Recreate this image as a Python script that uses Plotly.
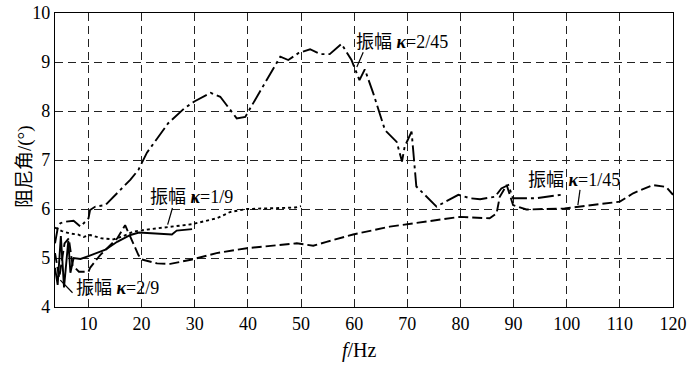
import plotly.graph_objects as go

# ---- data ----
f_k245 = [3.7, 4.2, 4.7, 5.6, 7.2, 8.5, 10.0, 10.3, 11.3, 13.2, 16.0, 17.9, 19.4, 21.0, 25.0, 28.0,
          30.0, 33.0, 34.8, 37.9, 39.5, 42.9, 46.1, 47.6, 49.5, 51.7, 53.6, 55.4, 57.6, 59.5,
          61.0, 62.0, 63.6, 65.8, 68.0, 69.0, 69.5, 70.8, 71.7, 75.5, 79.6, 81.8, 83.7, 86.5,
          87.7, 89.0, 89.9, 94.3, 99.6]
v_k245 = [5.3, 5.6, 5.71, 5.74, 5.76, 5.64, 5.81, 5.98, 6.05, 6.08, 6.39, 6.6, 6.8, 7.15, 7.75, 8.05,
          8.2, 8.37, 8.29, 7.85, 7.88, 8.5, 9.11, 9.04, 9.18, 9.26, 9.16, 9.16, 9.37, 9.04,
          8.63, 8.85, 8.36, 7.61, 7.37, 6.97, 7.27, 7.58, 6.46, 6.05, 6.29, 6.22, 6.2, 6.25,
          6.42, 6.49, 6.22, 6.22, 6.3]

f_k19 = [3.7, 5.0, 6.5, 8.0, 9.1, 10.3, 12.5, 14.7, 16.6, 18.5, 21.0, 25.1, 29.5, 34.1, 36.7,
         39.8, 44.0, 48.9, 50.0]
v_k19 = [5.62, 5.55, 5.5, 5.48, 5.43, 5.47, 5.4, 5.38, 5.45, 5.54, 5.58, 5.64, 5.69, 5.81, 5.94,
         6.0, 6.01, 6.03, 6.06]

f_k29 = [3.7, 4.2, 4.8, 5.4, 6.2, 6.6, 7.2, 8.5, 10.0, 11.6, 13.2, 15.4, 17.9, 19.5, 22.0,
         25.7, 26.6, 29.5]
v_k29 = [4.8, 4.45, 5.45, 4.4, 5.35, 4.7, 5.0, 4.98, 5.04, 5.1, 5.17, 5.33, 5.47, 5.52, 5.5,
         5.48, 5.56, 5.59]

f_k145 = [3.7, 4.5, 5.5, 6.3, 7.0, 8.2, 10.0, 10.3, 12.2, 15.4, 16.9, 18.2, 19.4, 20.0, 22.9,
          25.4, 29.5, 34.1, 39.8, 49.2, 52.3, 54.8, 59.8, 66.7, 72.0, 79.9, 85.5, 86.8, 87.4,
          88.7, 89.9, 92.4, 99.6, 102.5, 110.0, 112.5, 116.2, 118.7, 120.0]
v_k145 = [5.1, 4.6, 5.3, 5.4, 4.85, 4.72, 4.72, 4.8, 5.06, 5.4, 5.67, 5.37, 5.06, 4.97, 4.89,
          4.88, 4.97, 5.1, 5.2, 5.3, 5.25, 5.33, 5.48, 5.64, 5.72, 5.84, 5.81, 5.91, 6.25,
          6.49, 6.08, 5.99, 6.01, 6.05, 6.15, 6.32, 6.49, 6.45, 6.29]

x_ticks = [10, 20, 30, 40, 50, 60, 70, 80, 90, 100, 110, 120]
y_ticks = [4, 5, 6, 7, 8, 9, 10]

FONT = "Liberation Serif, Noto Sans CJK SC, serif"
LW = 1.9

fig = go.Figure()
fig.add_trace(go.Scatter(x=f_k245, y=v_k245, mode="lines",
                         line=dict(color="black", width=LW, dash="16px,4px,3px,4px")))
fig.add_trace(go.Scatter(x=f_k19, y=v_k19, mode="lines",
                         line=dict(color="black", width=LW, dash="3px,3px")))
fig.add_trace(go.Scatter(x=f_k29, y=v_k29, mode="lines",
                         line=dict(color="black", width=LW)))
fig.add_trace(go.Scatter(x=f_k145, y=v_k145, mode="lines",
                         line=dict(color="black", width=LW, dash="10px,4px")))

def lab(x, y, text, xanchor="left"):
    fig.add_annotation(x=x, y=y, xref="x", yref="y", text=text, showarrow=False,
                       xanchor=xanchor, yanchor="middle", borderpad=0,
                       font=dict(family=FONT, size=18, color="black"))

def leader(x0, y0, x1, y1):
    fig.add_shape(type="line", x0=x0, y0=y0, x1=x1, y1=y1, xref="x", yref="y",
                  line=dict(color="black", width=1.2))

lab(60.1, 9.41, "振幅 <b><i>κ</i></b>=2/45")
leader(61.7, 9.2, 60.5, 8.9)
lab(21.3, 6.25, "振幅 <b><i>κ</i></b>=1/9")
leader(25.8, 6.02, 24.9, 5.68)
lab(7.5, 4.39, "振幅 <b><i>κ</i></b>=2/9")
leader(7.0, 4.29, 4.7, 4.55)
lab(92.5, 6.59, "振幅 <b><i>κ</i></b>=1/45")
leader(102.5, 6.39, 102.1, 6.08)

# axis titles
fig.add_annotation(x=0.492, y=0, xref="paper", yref="paper", yshift=-43,
                   text="<i>f</i>/Hz", showarrow=False, xanchor="center", yanchor="middle",
                   font=dict(family=FONT, size=20, color="black"))
fig.add_annotation(x=0, y=0.476, xref="paper", yref="paper", xshift=-30,
                   text="阻尼角/(°)", showarrow=False, textangle=-90,
                   xanchor="center", yanchor="middle",
                   font=dict(family=FONT, size=19, color="black"))

axis_common = dict(showline=True, linecolor="black", linewidth=1.3, mirror=True,
                   showgrid=True, gridcolor="#222", gridwidth=1, griddash="8px,5px",
                   zeroline=False, ticks="", automargin=False,
                   tickfont=dict(family=FONT, size=18, color="black"))

fig.update_xaxes(range=[3.7, 120], tickvals=x_ticks, ticktext=[str(t) for t in x_ticks],
                 **axis_common)
fig.update_yaxes(range=[4, 10], tickvals=y_ticks, ticktext=[str(t) for t in y_ticks],
                 **axis_common)

fig.update_layout(width=700, height=365, showlegend=False,
                  margin=dict(l=55, r=27, t=13, b=58),
                  paper_bgcolor="white", plot_bgcolor="white")

# remove the page's default 8px body margin so the figure sits at the window origin,
# and keep the hover toolbar out of the picture
fig.write_html("out.html",
               post_script=("document.body.style.margin='0';"
                            "document.body.style.overflow='hidden';"
                            "var s=document.createElement('style');"
                            "s.textContent='.modebar-container{display:none !important}';"
                            "document.head.appendChild(s);"))
